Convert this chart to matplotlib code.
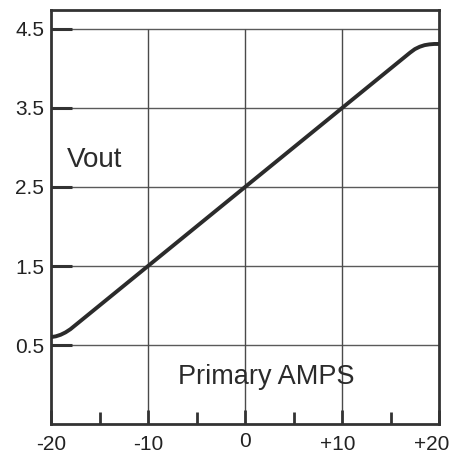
import numpy as np
import matplotlib.pyplot as plt
import matplotlib.transforms as mtransforms
from matplotlib.ticker import MultipleLocator

# Curve (primary amps vs output volts)
amps = [-20, -19.5, -19, -18.5, -18, -17.5, -17, -15, -10, 0, 10, 15, 16.5, 17, 17.5, 18, 18.5, 19, 19.5, 20]
vout = [0.60, 0.61, 0.63, 0.66, 0.70, 0.75, 0.80, 1.0, 1.5, 2.5, 3.5, 4.0, 4.15, 4.20, 4.245, 4.275, 4.295, 4.305, 4.31, 4.31]

x_ticks = [-20, -10, 0, 10, 20]
x_labels = ["-20", "-10", "0", "+10", "+20"]
y_ticks = [0.5, 1.5, 2.5, 3.5, 4.5]
y_labels = ["0.5", "1.5", "2.5", "3.5", "4.5"]

plt.rcParams['font.family'] = ['Liberation Sans', 'DejaVu Sans']

fig = plt.figure(figsize=(4.54, 4.54), dpi=100)
ax = fig.add_axes([0.1123, 0.066, 0.855, 0.912])

ax.set_xlim(-20, 20)
ax.set_ylim(-0.5, 4.74)

# horizontal grid goes full width, vertical grid only up to 4.5
for y in y_ticks:
    ax.axhline(y, color='#5a5a5a', lw=1.0, zorder=1)
ax.vlines(x_ticks[1:-1], -0.5, 4.5, color='#4a4a4a', lw=1.0, zorder=1)

ax.plot(amps, vout, color='#2b2b2b', lw=2.8, solid_capstyle='butt', zorder=3)

ax.set_xticks(x_ticks)
ax.set_xticklabels(x_labels)
ax.xaxis.set_minor_locator(MultipleLocator(5))
ax.set_yticks(y_ticks)
ax.set_yticklabels(y_labels)

ax.tick_params(axis='x', which='major', direction='in', length=10, width=2,
               labelsize=15, pad=8, color='#333333', labelcolor='#222222')
ax.tick_params(axis='x', which='minor', direction='in', length=9, width=2,
               color='#333333')
ax.tick_params(axis='y', which='major', direction='in', length=15, width=2.2,
               labelsize=15, pad=5, color='#333333', labelcolor='#222222')

# plus-signed labels sit a little left of their ticks, the last one fits inside the figure
xt = ax.get_xticklabels()
shifts = [0, 0, 0, -4, -7]
for lab, dx in zip(xt, shifts):
    lab.set_transform(lab.get_transform() + mtransforms.ScaledTranslation(dx / 100, 0, fig.dpi_scale_trans))
xt[2].set_transform(xt[2].get_transform() + mtransforms.ScaledTranslation(0, 3 / 100, fig.dpi_scale_trans))

for s in ax.spines.values():
    s.set_linewidth(2.0)
    s.set_color('#333333')

ax.text(-18.4, 2.84, "Vout", fontsize=20, va='center', ha='left', color='#2b2b2b')
ax.text(-6.9, 0.1, "Primary AMPS", fontsize=19.5, va='center', ha='left', color='#2b2b2b')

plt.savefig("out.png", dpi=100)
